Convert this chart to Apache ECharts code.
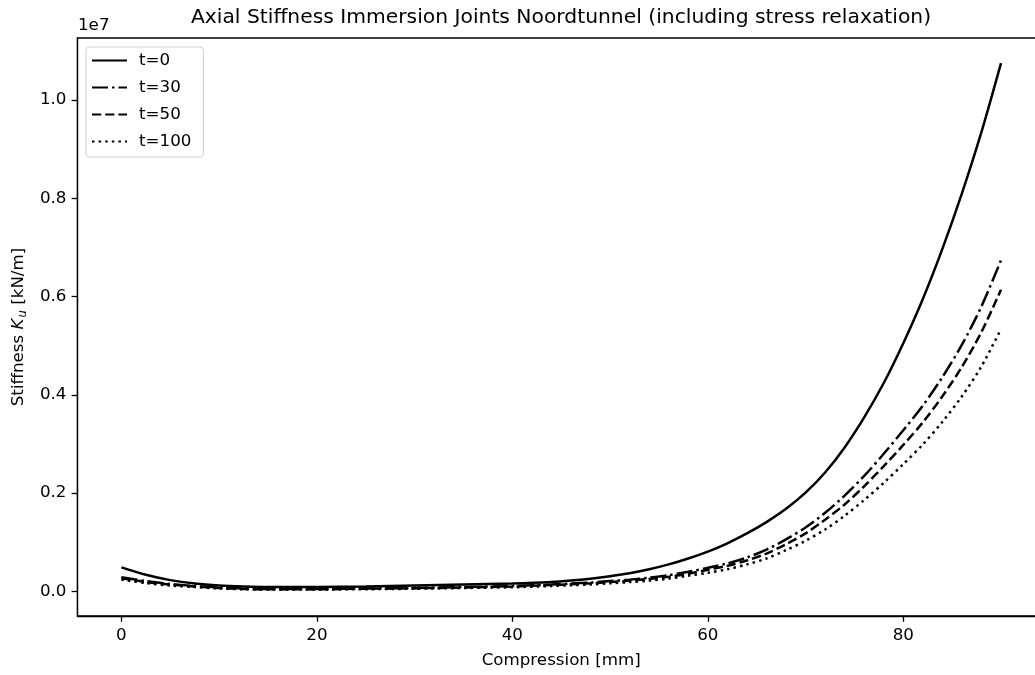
<!DOCTYPE html>
<html>
<head>
<meta charset="utf-8">
<script src="https://cdn.jsdelivr.net/npm/echarts@6/dist/echarts.min.js"></script>
<style>
html, body { margin: 0; padding: 0; overflow: hidden; background: #fff; }
#main { width: 1046px; height: 675px; }
</style>
</head>
<body>
<div id="main"></div>
<script>
// compression [mm]
var compression = [0, 2.5, 5, 7.5, 10, 12.5, 15, 20, 25, 30, 35, 40, 44, 46, 48, 50, 52, 54, 56, 58, 60, 62, 64, 66, 68, 70, 72, 74, 76, 78, 80, 82, 84, 86, 88, 90];

// stiffness in units of 1e7 kN/m
var t0 = [0.049, 0.034, 0.023, 0.016, 0.012, 0.010, 0.009, 0.009, 0.010, 0.012, 0.014, 0.016, 0.019, 0.022, 0.026, 0.031, 0.037, 0.045, 0.055, 0.067, 0.081, 0.098, 0.118, 0.141, 0.168, 0.201, 0.242, 0.293, 0.354, 0.424, 0.505, 0.595, 0.697, 0.810, 0.935, 1.075];
var t30 = [0.029, 0.021, 0.015, 0.011, 0.008, 0.006, 0.005, 0.005, 0.006, 0.007, 0.009, 0.011, 0.014, 0.016, 0.018, 0.021, 0.024, 0.028, 0.033, 0.040, 0.048, 0.057, 0.069, 0.085, 0.106, 0.130, 0.160, 0.195, 0.235, 0.280, 0.328, 0.378, 0.436, 0.502, 0.580, 0.674];
var t50 = [0.027, 0.019, 0.014, 0.010, 0.007, 0.005, 0.0045, 0.0045, 0.0055, 0.0065, 0.008, 0.010, 0.013, 0.0145, 0.0165, 0.019, 0.022, 0.0255, 0.030, 0.036, 0.044, 0.052, 0.063, 0.077, 0.096, 0.118, 0.146, 0.177, 0.214, 0.255, 0.298, 0.344, 0.397, 0.457, 0.528, 0.614];
var t100 = [0.024, 0.017, 0.012, 0.009, 0.006, 0.0045, 0.004, 0.004, 0.0045, 0.0055, 0.007, 0.0085, 0.011, 0.0125, 0.014, 0.0165, 0.019, 0.022, 0.026, 0.032, 0.038, 0.045, 0.055, 0.067, 0.084, 0.103, 0.126, 0.154, 0.186, 0.221, 0.259, 0.299, 0.345, 0.397, 0.458, 0.534];

var seriesNames = ['t=0', 't=30', 't=50', 't=100'];
var seriesData = [t0, t30, t50, t100];
var dashTypes = ['solid', [16, 4, 2.5, 4], [9.2, 4], [2.5, 4.1]];

var xTicks = [0, 20, 40, 60, 80];
var yTicks = [0, 0.2, 0.4, 0.6, 0.8, 1.0];

var font = 'DejaVu Sans';
var fs = 16.7;

function pairs(ys) {
    var out = [];
    for (var i = 0; i < compression.length; ++i) {
        out.push([compression[i], ys[i]]);
    }
    return out;
}

var myChart = echarts.init(document.getElementById('main'));

var series = [];
for (var k = 0; k < seriesNames.length; ++k) {
    series.push({
        name: seriesNames[k],
        type: 'line',
        data: pairs(seriesData[k]),
        smooth: 0.3,
        symbol: 'none',
        lineStyle: { color: '#000', width: 2.5, type: dashTypes[k], cap: 'butt' },
        itemStyle: { color: '#000' }
    });
}

var option = {
    animation: false,
    textStyle: { fontFamily: font },
    title: {
        text: 'Axial Stiffness Immersion Joints Noordtunnel (including stress relaxation)',
        left: 561,
        top: 8,
        textAlign: 'center',
        padding: 0,
        textStyle: { fontFamily: font, fontSize: 20.3, fontWeight: 'normal', color: '#000' }
    },
    legend: {
        data: seriesNames,
        orient: 'vertical',
        left: 86,
        top: 47,
        padding: [5, 12, 7, 5],
        itemWidth: 35,
        itemHeight: 17,
        itemGap: 10,
        borderColor: '#d0d0d0',
        borderWidth: 1,
        borderRadius: 3,
        backgroundColor: 'rgba(255,255,255,0.8)',
        itemStyle: { opacity: 0 },
        textStyle: { fontFamily: font, fontSize: fs, color: '#000', padding: [0, 0, 0, 7] }
    },
    grid: {
        left: 77,
        right: 1,
        top: 38,
        bottom: 59,
        show: true,
        borderColor: '#000',
        borderWidth: 1.3
    },
    xAxis: {
        type: 'value',
        min: -4.5,
        max: 94.5,
        name: 'Compression [mm]',
        nameLocation: 'middle',
        nameGap: 36,
        nameTextStyle: { fontFamily: font, fontSize: fs, color: '#000' },
        axisLine: { show: true, onZero: false, lineStyle: { color: '#000', width: 1.3 } },
        axisTick: { show: true, length: 5.8, lineStyle: { color: '#000', width: 1.3 }, customValues: xTicks },
        axisLabel: { customValues: xTicks, color: '#000', fontFamily: font, fontSize: fs, margin: 11 },
        splitLine: { show: false }
    },
    yAxis: {
        type: 'value',
        min: -0.05,
        max: 1.126,
        name: '{a|Stiffness }{k|K}{u|u}{a| [kN/m]}',
        nameLocation: 'middle',
        nameGap: 47,
        nameTextStyle: {
            rich: {
                a: { fontFamily: font, fontSize: fs, color: '#000', lineHeight: 22 },
                k: { fontFamily: font, fontSize: fs, color: '#000', fontStyle: 'italic', lineHeight: 22 },
                u: { fontFamily: font, fontSize: 11.7, color: '#000', fontStyle: 'italic', padding: [9, 0, 0, 1], lineHeight: 22 }
            }
        },
        axisLine: { show: true, onZero: false, lineStyle: { color: '#000', width: 1.3 } },
        axisTick: { show: true, length: 5.8, lineStyle: { color: '#000', width: 1.3 }, customValues: yTicks },
        axisLabel: {
            customValues: yTicks,
            color: '#000',
            fontFamily: font,
            fontSize: fs,
            margin: 11,
            formatter: function (v) { return v.toFixed(1); }
        },
        splitLine: { show: false }
    },
    graphic: [{
        type: 'text',
        left: 78,
        top: 17,
        style: { text: '1e7', font: '16.7px "DejaVu Sans"', fill: '#000' }
    }],
    series: series
};

myChart.setOption(option);
</script>
</body>
</html>
